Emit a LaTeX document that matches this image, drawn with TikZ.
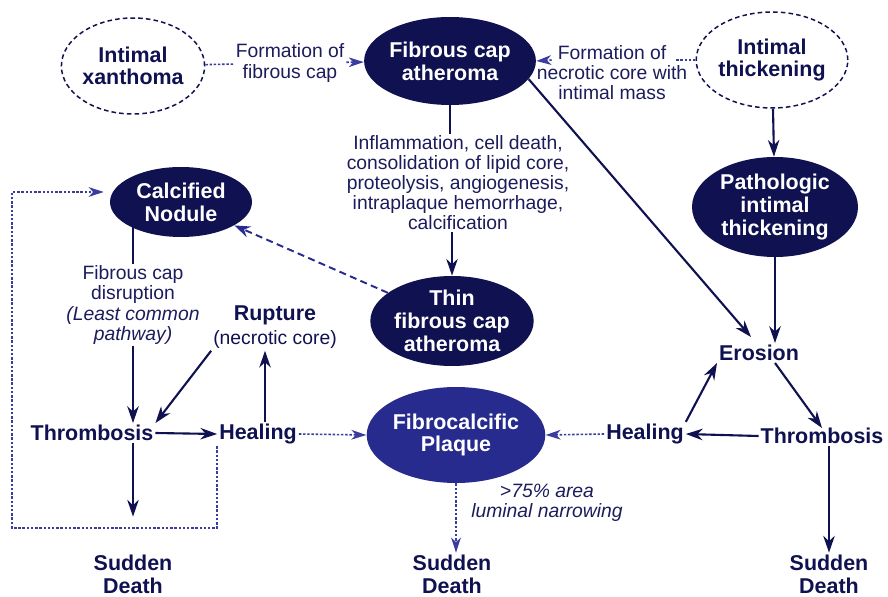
\documentclass[tikz,border=0pt]{standalone}
\usepackage{fontspec}
\setmainfont{Liberation Sans}
\usetikzlibrary{shapes.geometric,arrows.meta,calc}
\definecolor{navy}{HTML}{0F1150}
\definecolor{fcblue}{HTML}{272B8E}
\definecolor{dotblue}{HTML}{3A3C9E}
\definecolor{ink}{HTML}{1C1C5C}
\tikzstyle{link}=[line width=1.2pt,draw=navy]
\tikzstyle{flow}=[link,-{Stealth[length=9.5pt,width=6.5pt,inset=3pt]}]
\tikzstyle{dotline}=[line width=0.9pt,draw=dotblue,dash pattern=on 1.4pt off 1pt]
\tikzstyle{dots}=[dotline,-{Stealth[length=8.5pt,width=5.5pt,inset=2.5pt]}]
\tikzstyle{dashes}=[line width=1.1pt,draw=fcblue,dash pattern=on 4pt off 2.5pt,-{Stealth[length=9pt,width=6.5pt,inset=3pt]}]
\tikzstyle{plaque}=[ellipse,fill=navy,text=white,inner sep=0pt,align=center,font=\fontsize{12.2}{13}\selectfont\bfseries]
\tikzstyle{early}=[ellipse,draw=navy,line width=0.85pt,dash pattern=on 2.6pt off 1.8pt,text=navy,inner sep=0pt,align=center,font=\fontsize{12.2}{12.6}\selectfont\bfseries]
\tikzstyle{event}=[text=navy,inner sep=1pt,align=center,font=\fontsize{12.2}{13}\selectfont\bfseries]
\tikzstyle{note}=[text=ink,inner sep=1pt,align=center,font=\fontsize{11}{11.4}\selectfont]
\begin{document}
\begin{tikzpicture}[x=0.02cm,y=-0.02cm]
	\useasboundingbox (0,0) rectangle (888,597);
	
	%The early lesions
	\draw (133,66) node[early,minimum width=2.8cm,minimum height=1.92cm] (xan) {Intimal\\xanthoma};
	\draw (772,60) node[early,minimum width=2.8cm,minimum height=1.92cm] (it) {Intimal\\thickening};
	
	%The progressive lesions
	\draw (450,61) node[plaque,minimum width=2.92cm,minimum height=1.76cm] (fca) {Fibrous cap\\atheroma};
	\draw (775,207) node[plaque,minimum width=3.32cm,minimum height=2cm] (pit) {Pathologic\\intimal\\thickening};
	\draw (181,202) node[plaque,minimum width=2.84cm,minimum height=1.4cm] (cn) {Calcified\\Nodule};
	\draw (452,321) node[plaque,minimum width=3cm,minimum height=1.8cm] (tfca) {Thin\\fibrous cap\\atheroma};
	\draw (456,435) node[plaque,fill=fcblue,minimum width=3.08cm,minimum height=1.92cm] (fcp) {Fibrocalcific\\Plaque};
	
	%The notes
	\draw (290,63) node[note] (form1) {Formation of\\fibrous cap};
	\draw (612,73) node[note] (form2) {Formation of\\necrotic core with\\intimal mass};
	\draw (458,183) node[note] (infl) {Inflammation, cell death,\\consolidation of lipid core,\\proteolysis, angiogenesis,\\intraplaque hemorrhage,\\calcification};
	\draw (133,305) node[note] (disr) {Fibrous cap\\disruption\\\textit{(Least common}\\\textit{pathway)}};
	\draw (547,503) node[note,font=\fontsize{11}{11.4}\selectfont\itshape] (narrow) {>75\% area\\luminal narrowing};
	
	%The events
	\draw (275,327) node[event] (rup) {Rupture\\[1pt]{\mdseries\fontsize{11}{12}\selectfont(necrotic core)}};
	\draw (92,433) node[event] (thrL) {Thrombosis};
	\draw (258,434) node[event] (healL) {Healing};
	\draw (759,353) node[event] (ero) {Erosion};
	\draw (645,434) node[event] (healR) {Healing};
	\draw (822,436) node[event] (thrR) {Thrombosis};
	\draw (133,574) node[event] (sdL) {Sudden\\Death};
	\draw (452,574) node[event] (sdM) {Sudden\\Death};
	\draw (829,574) node[event] (sdR) {Sudden\\Death};
	
	%The top row
	\draw[dotline] (xan) -- (form1);
	\draw[dots] (form1) -- (fca);
	\draw[dotline] (it.west) -- ($(form2.east |- it.west)+(-14,0)$);
	\draw[dots] ($(form2.west |- it.west)+(17,0)$) -- (fca.east);
	
	%The middle column
	\draw[link] (fca.south) -- (fca.south |- infl.north);
	\draw[flow] (infl.south -| tfca) -- (tfca.north);
	\draw[dashes] (tfca) -- (cn);
	\draw[dots] (fcp.south) -- (fcp.south |- sdM.north);
	
	%The right side
	\draw[flow] (it) -- (pit);
	\draw[flow] (pit.south) -- (pit.south |- ero.north);
	\draw[flow] (fca.-13) -- ($(ero.north)+(-8,-6)$);
	\draw[flow] ($(ero.south)+(16,0)$) -- ($(thrR.north)+(0,2)$);
	\draw[flow] (thrR.west) -- (healR.east);
	\draw[flow] (healR.north east) -- (ero.south west);
	\draw[dots] (healR.west) -- (fcp.east);
	\draw[flow] (thrR.south -| sdR) -- (sdR.north);
	
	%The left side
	\draw[link] (disr.north) -- (disr |- cn.center);
	\draw[flow] (disr.south) -- (disr |- thrL.north);
	\draw[flow] (rup.south west) -- (thrL.north east);
	\draw[flow] (thrL.east) -- (healL.west);
	\draw[flow] ($(healL.north)+(7,0)$) -- ($(rup.south)+(-10,0)$);
	\draw[dots] (healL.east) -- (fcp.west);
	\draw[flow] (sdL |- thrL.south) -- ($(sdL.north)+(0,-36)$);
	\coordinate (loop) at (12,528);
	\draw[dots] (healL.south west) |- (loop) |- ($(cn.west)+(-6,-10)$);
\end{tikzpicture}
\end{document}
